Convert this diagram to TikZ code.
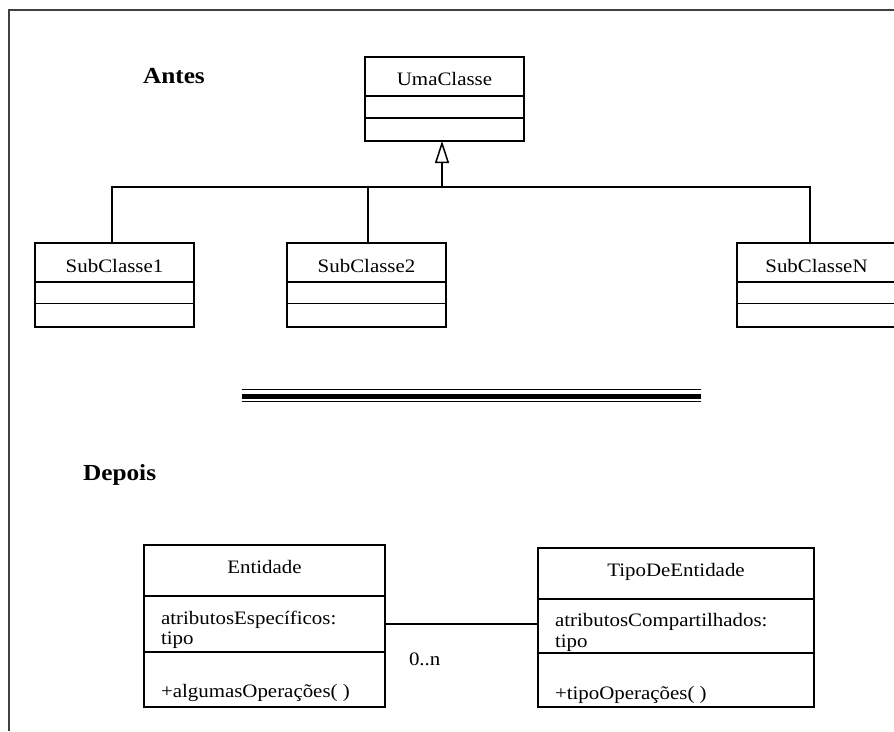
\documentclass[tikz,border=0pt]{standalone}
\usepackage{fontspec}
\setmainfont{Liberation Serif}[FakeStretch=1.1]
\usetikzlibrary{arrows.meta,calc}
\begin{document}
\begin{tikzpicture}[x=1pt,y=-1pt,
  box/.style={draw,line width=1.6pt,inner sep=0pt,outer sep=0pt},
  lbl/.style={inner sep=0pt,outer sep=0pt,font=\fontsize{19}{22}\selectfont},
  ttl/.style={inner sep=0pt,outer sep=0pt,font=\fontsize{23}{26}\selectfont\bfseries},
  conn/.style={line width=1.6pt}]
\useasboundingbox (0,0) rectangle (894,731);
% frame
\draw[line width=2pt,black!75] (9,731) -- (9,10) -- (894,10);
% titles
\node[ttl,anchor=base west] (antes) at (143,83) {Antes};
\node[ttl,anchor=base west] (depois) at (83,480) {Depois};
% class boxes (Antes)
\node[box,minimum width=159pt,minimum height=84pt] (uma) at (444.5,99) {};
\node[box,minimum width=159pt,minimum height=84pt] (s1) at (114.5,285) {};
\node[box,minimum width=159pt,minimum height=84pt] (s2) at (366.5,285) {};
\node[box,minimum width=159pt,minimum height=84pt] (sN) at (816.5,285) {};
\foreach \b in {uma}{
  \draw[conn] ($(\b.north west)+(0,39)$) -- ($(\b.north east)+(0,39)$);
  \draw[conn] ($(\b.north west)+(0,61)$) -- ($(\b.north east)+(0,61)$);
}
\foreach \b in {s1,s2,sN}{
  \draw[conn] ($(\b.north west)+(0,39)$) -- ($(\b.north east)+(0,39)$);
  \draw[conn] ($(\b.north west)+(0,60.5)$) -- ($(\b.north east)+(0,60.5)$);
}
\node[lbl,anchor=base] (tuma) at (444.5,85) {UmaClasse};
\node[lbl,anchor=base] (ts1) at (114.5,272) {SubClasse1};
\node[lbl,anchor=base] (ts2) at (366.5,272) {SubClasse2};
\node[lbl,anchor=base] (tsN) at (816.5,272) {SubClasseN};
% inheritance
\coordinate (j) at (442,187);
\draw[conn] ([xshift=-2.5pt]s1.north) |- (j) -| ([xshift=-6.5pt]sN.north);
\draw[conn] ([xshift=1.5pt]s2.north) -- ([xshift=1.5pt]s2.north |- j);
\draw[conn,-{Triangle[open,length=22pt,width=14pt,line width=1.5pt]}] (j) -- (j |- uma.south);
% separator
\draw[line width=1.4pt] (242,389.5) -- (701,389.5);
\draw[line width=4.5pt] (242,396.3) -- (701,396.3);
\draw[line width=1.4pt] (242,401.2) -- (701,401.2);
% Depois boxes
\node[box,minimum width=241pt,minimum height=162pt] (ent) at (264.5,626) {};
\node[box,minimum width=276pt,minimum height=159pt] (tip) at (676,627.5) {};
\draw[conn] ($(ent.north west)+(0,51)$) -- ($(ent.north east)+(0,51)$);
\draw[conn] ($(ent.north west)+(0,107)$) -- ($(ent.north east)+(0,107)$);
\draw[conn] ($(tip.north west)+(0,51)$) -- ($(tip.north east)+(0,51)$);
\draw[conn] ($(tip.north west)+(0,105)$) -- ($(tip.north east)+(0,105)$);
\node[lbl,anchor=base] (tent) at (264.5,573) {Entidade};
\node[lbl,anchor=base west] (a1) at (161,624) {atributosEspecíficos:};
\node[lbl,anchor=base west] (a2) at (161,644) {tipo};
\node[lbl,anchor=base west] (o1) at (161,697) {+algumasOperações( )};
\node[lbl,anchor=base] (ttip) at (676,576) {TipoDeEntidade};
\node[lbl,anchor=base west] (b1) at (555,626) {atributosCompartilhados:};
\node[lbl,anchor=base west] (b2) at (555,647) {tipo};
\node[lbl,anchor=base west] (p1) at (555,699) {+tipoOperações( )};
% association
\coordinate (as) at (0,624);
\draw[conn] (ent.east |- as) -- (tip.west |- as);
\node[lbl,anchor=base west] (mult) at (409,665) {0..n};
\end{tikzpicture}
\end{document}
